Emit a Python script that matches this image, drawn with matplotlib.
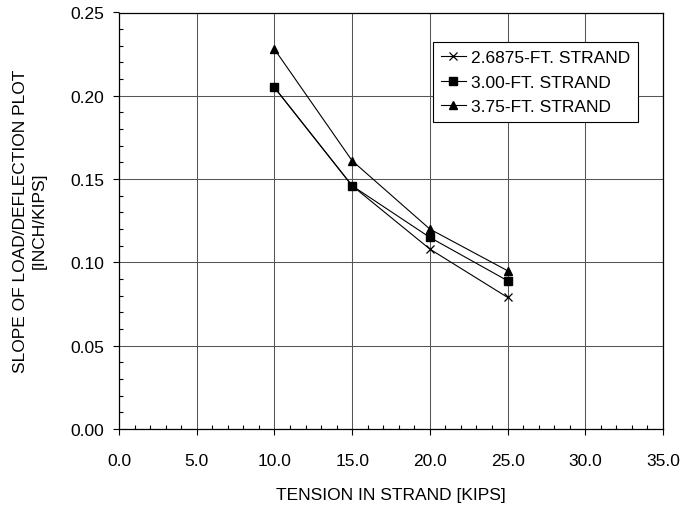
import numpy as np
import matplotlib
matplotlib.use("Agg")
import matplotlib.pyplot as plt
from matplotlib.ticker import MultipleLocator, FormatStrFormatter

plt.rcParams['font.family'] = ['Liberation Sans', 'DejaVu Sans']

# slope of load/deflection plot vs strand tension
tension = [10.0, 15.0, 20.0, 25.0]
slope_26875 = [0.205, 0.146, 0.108, 0.079]
slope_300 = [0.205, 0.146, 0.115, 0.089]
slope_375 = [0.228, 0.161, 0.120, 0.095]
labels = ['2.6875-FT. STRAND', '3.00-FT. STRAND', '3.75-FT. STRAND']

fs = 12.5

fig = plt.figure(figsize=(6.83, 5.10), dpi=100)
ax = fig.add_axes([119 / 683, 1 - 430 / 510, 544 / 683, 416.5 / 510])

ax.plot(tension, slope_26875, color='black', lw=0.8, marker='x',
        markersize=5.5, markeredgewidth=0.9, label=labels[0])
ax.plot(tension, slope_300, color='black', lw=0.8, marker='s',
        markersize=5.5, label=labels[1])
ax.plot(tension, slope_375, color='black', lw=0.8, marker='^',
        markersize=6, label=labels[2])

ax.set_xlim(0, 35)
ax.set_ylim(0, 0.25)
ax.xaxis.set_major_locator(MultipleLocator(5))
ax.xaxis.set_minor_locator(MultipleLocator(1))
ax.yaxis.set_major_locator(MultipleLocator(0.05))
ax.yaxis.set_minor_locator(MultipleLocator(0.01))
ax.xaxis.set_major_formatter(FormatStrFormatter('%.1f'))
ax.yaxis.set_major_formatter(FormatStrFormatter('%.2f'))

ax.grid(True, which='major', color='#555555', lw=0.75)
ax.set_axisbelow(True)
ax.tick_params(which='major', direction='out', length=4.5, width=0.8,
               labelsize=fs, color='black')
ax.tick_params(axis='x', which='major', pad=13)
ax.tick_params(axis='y', which='major', pad=6)
ax.tick_params(which='minor', direction='in', length=3, width=0.8)
for sp in ax.spines.values():
    sp.set_color('black')
    sp.set_linewidth(0.9)

leg = ax.legend(loc='upper right', bbox_to_anchor=(0.954, 0.929),
                fontsize=fs, frameon=True, fancybox=False, edgecolor='black',
                framealpha=1, borderaxespad=0, borderpad=0.45,
                labelspacing=0.55, handlelength=1.45, handletextpad=0.3)
leg.get_frame().set_linewidth(0.8)

fig.text(30 / 683, 1 - 221 / 510,
         'SLOPE OF LOAD/DEFLECTION PLOT\n[INCH/KIPS]',
         rotation=90, ha='center', va='center', fontsize=fs,
         multialignment='center', linespacing=1.35)
fig.text(391 / 683, 1 - 496 / 510, 'TENSION IN STRAND [KIPS]',
         ha='center', va='center', fontsize=fs)

fig.savefig('out.png', dpi=100)
